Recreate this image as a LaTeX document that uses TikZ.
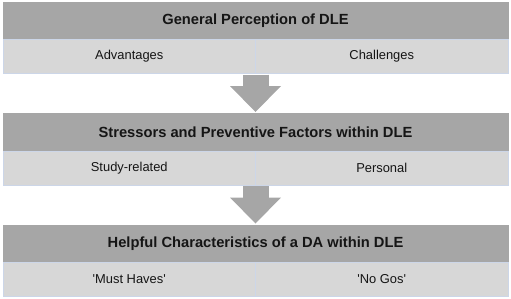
\documentclass[tikz,border=0pt]{standalone}
\usepackage{fontspec}
\setmainfont{Liberation Sans}
\usepackage{tikz}
\usetikzlibrary{positioning, arrows.meta}
\usepackage{xcolor}
\definecolor{headGray}{HTML}{A6A6A6}
\definecolor{cellGray}{HTML}{D7D7D7}
\definecolor{cellLine}{HTML}{CCD6E8}
\definecolor{arrowGray}{HTML}{A6A6A6}
\definecolor{textBlack}{HTML}{151515}

\begin{document}
\begin{tikzpicture}[x=1pt, y=1pt,
      header/.style={rectangle, fill=headGray, draw=headGray, minimum width=505pt, minimum height=37.5pt, inner sep=0pt, outer sep=0pt, font=\fontsize{14.7}{16}\selectfont\bfseries, text=textBlack},
      cell/.style={rectangle, fill=cellGray, draw=cellLine, line width=0.8pt, minimum width=252.5pt, minimum height=34pt, inner sep=0pt, outer sep=0pt, font=\fontsize{12.9}{15}\selectfont, text=textBlack},
      flow/.style={draw=arrowGray, line width=26pt, -{Triangle[width=51pt, length=26pt, line width=0pt, fill=arrowGray]}, shorten <=1pt, shorten >=1.5pt}
    ]
      \useasboundingbox (0,0) rectangle (511,298);

      \node[header] (gen) at (255.5,277.25) {General Perception of DLE};
      \node[cell, below right=0pt and 0pt of gen.south west] (adv) {Advantages};
      \node[cell, right=0pt of adv] (chal) {Challenges};

      \node[header, below=74pt of gen] (stress) {Stressors and Preventive Factors within DLE};
      \node[cell, below right=0pt and 0pt of stress.south west] (study) {Study-related};
      \node[cell, right=0pt of study] (pers) {Personal};

      \node[header, below=74pt of stress] (help) {Helpful Characteristics of a DA within DLE};
      \node[cell, below right=0pt and 0pt of help.south west] (must) {\textquotesingle Must Haves\textquotesingle};
      \node[cell, right=0pt of must] (nogo) {\textquotesingle No Gos\textquotesingle};

      \draw[flow] (adv.south east) -- (stress.north);
      \draw[flow] (study.south east) -- (help.north);
    \end{tikzpicture}
\end{document}
